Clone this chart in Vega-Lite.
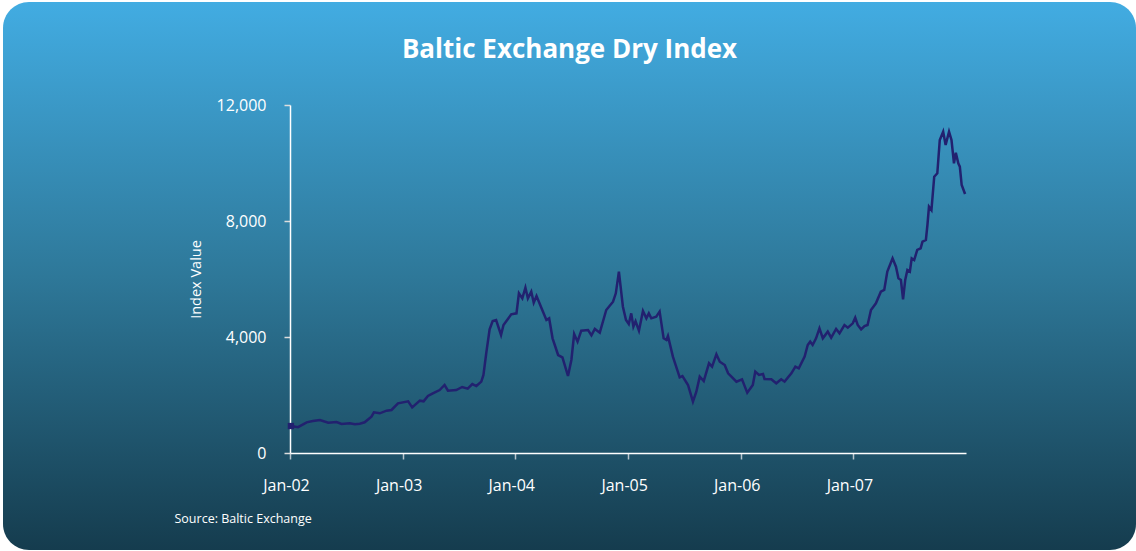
{
  "$schema": "https://vega.github.io/schema/vega-lite/v6.json",
  "width": 1133,
  "height": 548,
  "padding": {"left": 3, "top": 2, "right": 0, "bottom": 1},
  "background": "white",
  "config": {
    "font": "Open Sans",
    "view": {
      "cornerRadius": 26,
      "stroke": null,
      "fill": {
        "gradient": "linear",
        "x1": 0, "y1": 0, "x2": 0, "y2": 1,
        "stops": [
          {"offset": 0, "color": "#42ace2"},
          {"offset": 0.5, "color": "#2e7899"},
          {"offset": 1, "color": "#153c4e"}
        ]
      }
    },
    "axis": {
      "grid": false,
      "domainColor": "white",
      "domainWidth": 1.5,
      "tickColor": "#dddddd",
      "tickWidth": 1.5,
      "tickSize": 6,
      "labelColor": "white",
      "labelFont": "Open Sans",
      "labelFontSize": 16,
      "titleColor": "white",
      "titleFont": "Open Sans"
    }
  },
  "title": {
    "text": "Baltic Exchange Dry Index",
    "color": "white",
    "font": "Open Sans",
    "fontSize": 26,
    "fontWeight": "bold",
    "anchor": "middle",
    "baseline": "middle",
    "offset": -74
  },
  "data": {
    "values": [
      {"date": "2002-01-04", "value": 930},
      {"date": "2002-01-27", "value": 890},
      {"date": "2002-02-24", "value": 1058},
      {"date": "2002-03-16", "value": 1100},
      {"date": "2002-04-08", "value": 1138},
      {"date": "2002-05-05", "value": 1046},
      {"date": "2002-06-01", "value": 1069},
      {"date": "2002-06-17", "value": 1000},
      {"date": "2002-07-14", "value": 1023},
      {"date": "2002-07-30", "value": 990},
      {"date": "2002-08-15", "value": 1010},
      {"date": "2002-08-31", "value": 1058},
      {"date": "2002-09-22", "value": 1253},
      {"date": "2002-09-30", "value": 1402},
      {"date": "2002-10-19", "value": 1368},
      {"date": "2002-11-10", "value": 1460},
      {"date": "2002-11-26", "value": 1483},
      {"date": "2002-12-17", "value": 1713},
      {"date": "2003-01-19", "value": 1782},
      {"date": "2003-02-01", "value": 1575},
      {"date": "2003-02-26", "value": 1805},
      {"date": "2003-03-10", "value": 1782},
      {"date": "2003-03-24", "value": 1966},
      {"date": "2003-04-09", "value": 2057},
      {"date": "2003-05-01", "value": 2172},
      {"date": "2003-05-17", "value": 2345},
      {"date": "2003-05-28", "value": 2149},
      {"date": "2003-06-24", "value": 2172},
      {"date": "2003-07-13", "value": 2276},
      {"date": "2003-07-31", "value": 2218},
      {"date": "2003-08-15", "value": 2379},
      {"date": "2003-08-28", "value": 2310},
      {"date": "2003-09-13", "value": 2460},
      {"date": "2003-09-20", "value": 2690},
      {"date": "2003-09-29", "value": 3437},
      {"date": "2003-10-10", "value": 4264},
      {"date": "2003-10-20", "value": 4552},
      {"date": "2003-10-31", "value": 4586},
      {"date": "2003-11-16", "value": 4069},
      {"date": "2003-11-24", "value": 4414},
      {"date": "2003-12-19", "value": 4782},
      {"date": "2004-01-05", "value": 4816},
      {"date": "2004-01-13", "value": 5506},
      {"date": "2004-01-24", "value": 5333},
      {"date": "2004-02-03", "value": 5701},
      {"date": "2004-02-11", "value": 5333},
      {"date": "2004-02-22", "value": 5563},
      {"date": "2004-03-01", "value": 5184},
      {"date": "2004-03-10", "value": 5414},
      {"date": "2004-03-31", "value": 4874},
      {"date": "2004-04-11", "value": 4586},
      {"date": "2004-04-20", "value": 4644},
      {"date": "2004-05-01", "value": 3954},
      {"date": "2004-05-19", "value": 3379},
      {"date": "2004-06-02", "value": 3299},
      {"date": "2004-06-20", "value": 2655},
      {"date": "2004-07-01", "value": 3207},
      {"date": "2004-07-10", "value": 4103},
      {"date": "2004-07-21", "value": 3839},
      {"date": "2004-08-02", "value": 4218},
      {"date": "2004-08-24", "value": 4241},
      {"date": "2004-09-04", "value": 4057},
      {"date": "2004-09-15", "value": 4276},
      {"date": "2004-10-01", "value": 4149},
      {"date": "2004-10-22", "value": 4931},
      {"date": "2004-11-13", "value": 5218},
      {"date": "2004-11-22", "value": 5506},
      {"date": "2004-12-02", "value": 6253},
      {"date": "2004-12-15", "value": 5046},
      {"date": "2004-12-25", "value": 4586},
      {"date": "2005-01-03", "value": 4448},
      {"date": "2005-01-11", "value": 4816},
      {"date": "2005-01-18", "value": 4356},
      {"date": "2005-01-25", "value": 4540},
      {"date": "2005-02-05", "value": 4218},
      {"date": "2005-02-18", "value": 4897},
      {"date": "2005-03-01", "value": 4644},
      {"date": "2005-03-09", "value": 4816},
      {"date": "2005-03-17", "value": 4644},
      {"date": "2005-04-02", "value": 4701},
      {"date": "2005-04-13", "value": 4874},
      {"date": "2005-04-26", "value": 3954},
      {"date": "2005-05-05", "value": 3897},
      {"date": "2005-05-10", "value": 4034},
      {"date": "2005-05-26", "value": 3322},
      {"date": "2005-06-17", "value": 2609},
      {"date": "2005-06-26", "value": 2655},
      {"date": "2005-07-14", "value": 2345},
      {"date": "2005-07-30", "value": 1770},
      {"date": "2005-08-10", "value": 2115},
      {"date": "2005-08-21", "value": 2632},
      {"date": "2005-09-03", "value": 2483},
      {"date": "2005-09-20", "value": 3092},
      {"date": "2005-09-30", "value": 2977},
      {"date": "2005-10-14", "value": 3402},
      {"date": "2005-10-25", "value": 3149},
      {"date": "2005-11-10", "value": 3034},
      {"date": "2005-11-21", "value": 2747},
      {"date": "2005-12-18", "value": 2460},
      {"date": "2006-01-05", "value": 2540},
      {"date": "2006-01-22", "value": 2080},
      {"date": "2006-02-09", "value": 2345},
      {"date": "2006-02-17", "value": 2805},
      {"date": "2006-03-01", "value": 2690},
      {"date": "2006-03-14", "value": 2724},
      {"date": "2006-03-19", "value": 2552},
      {"date": "2006-04-10", "value": 2540},
      {"date": "2006-04-26", "value": 2402},
      {"date": "2006-05-12", "value": 2540},
      {"date": "2006-05-23", "value": 2460},
      {"date": "2006-06-14", "value": 2747},
      {"date": "2006-06-27", "value": 2977},
      {"date": "2006-07-08", "value": 2920},
      {"date": "2006-07-27", "value": 3322},
      {"date": "2006-08-06", "value": 3724},
      {"date": "2006-08-14", "value": 3839},
      {"date": "2006-08-22", "value": 3724},
      {"date": "2006-09-02", "value": 3954},
      {"date": "2006-09-13", "value": 4299},
      {"date": "2006-09-24", "value": 3954},
      {"date": "2006-10-10", "value": 4184},
      {"date": "2006-10-21", "value": 3977},
      {"date": "2006-11-06", "value": 4276},
      {"date": "2006-11-17", "value": 4126},
      {"date": "2006-12-03", "value": 4414},
      {"date": "2006-12-14", "value": 4322},
      {"date": "2006-12-30", "value": 4471},
      {"date": "2007-01-07", "value": 4667},
      {"date": "2007-01-15", "value": 4414},
      {"date": "2007-01-26", "value": 4264},
      {"date": "2007-02-06", "value": 4379},
      {"date": "2007-02-16", "value": 4414},
      {"date": "2007-02-27", "value": 4931},
      {"date": "2007-03-15", "value": 5161},
      {"date": "2007-03-31", "value": 5563},
      {"date": "2007-04-11", "value": 5621},
      {"date": "2007-04-21", "value": 6253},
      {"date": "2007-05-08", "value": 6713},
      {"date": "2007-05-19", "value": 6425},
      {"date": "2007-05-27", "value": 6023},
      {"date": "2007-06-04", "value": 5966},
      {"date": "2007-06-11", "value": 5299},
      {"date": "2007-06-18", "value": 5966},
      {"date": "2007-06-25", "value": 6310},
      {"date": "2007-07-03", "value": 6253},
      {"date": "2007-07-09", "value": 6713},
      {"date": "2007-07-17", "value": 6655},
      {"date": "2007-07-27", "value": 7000},
      {"date": "2007-08-07", "value": 7057},
      {"date": "2007-08-13", "value": 7287},
      {"date": "2007-08-24", "value": 7345},
      {"date": "2007-08-29", "value": 7862},
      {"date": "2007-09-03", "value": 8494},
      {"date": "2007-09-11", "value": 8379},
      {"date": "2007-09-20", "value": 9529},
      {"date": "2007-09-30", "value": 9644},
      {"date": "2007-10-08", "value": 10793},
      {"date": "2007-10-19", "value": 11080},
      {"date": "2007-10-27", "value": 10621},
      {"date": "2007-11-07", "value": 11080},
      {"date": "2007-11-15", "value": 10793},
      {"date": "2007-11-23", "value": 9989},
      {"date": "2007-11-29", "value": 10356},
      {"date": "2007-12-07", "value": 9989},
      {"date": "2007-12-12", "value": 9874},
      {"date": "2007-12-18", "value": 9241},
      {"date": "2007-12-29", "value": 8931}
    ]
  },
  "encoding": {
    "x": {
      "field": "date",
      "type": "temporal",
      "scale": {
        "type": "utc",
        "domain": [
          {"year": 2002, "month": 1, "date": 1, "utc": true},
          {"year": 2008, "month": 1, "date": 1, "utc": true}
        ],
        "range": [287, 963]
      },
      "axis": {
        "orient": "bottom",
        "offset": -97,
        "values": [
          {"year": 2002, "month": 1, "date": 1, "utc": true},
          {"year": 2003, "month": 1, "date": 1, "utc": true},
          {"year": 2004, "month": 1, "date": 1, "utc": true},
          {"year": 2005, "month": 1, "date": 1, "utc": true},
          {"year": 2006, "month": 1, "date": 1, "utc": true},
          {"year": 2007, "month": 1, "date": 1, "utc": true}
        ],
        "labelExpr": "utcFormat(datum.value, '%b-%y')",
        "labelFlush": false,
        "labelOffset": -4,
        "labelPadding": 18,
        "tickColor": "#b8c4cc",
        "title": "Source: Baltic Exchange",
        "titleFontSize": 12.5,
        "titleFontWeight": "normal",
        "titleAnchor": "start",
        "titleAlign": "left",
        "titleBaseline": "middle",
        "titleX": 171,
        "titleY": 65
      }
    },
    "y": {
      "field": "value",
      "type": "quantitative",
      "scale": {"domain": [0, 12000], "range": [451, 103], "nice": false, "zero": true},
      "axis": {
        "orient": "left",
        "offset": -287,
        "values": [0, 4000, 8000, 12000],
        "format": ",d",
        "labelPadding": 18,
        "title": "Index Value",
        "titleFontSize": 14.5,
        "titleFontWeight": "normal",
        "titlePadding": 13
      }
    }
  },
  "layer": [
    {
      "mark": {"type": "line", "color": "#22216f", "strokeWidth": 2.5, "interpolate": "linear"}
    },
    {
      "transform": [{"filter": "datum.value == 930"}],
      "mark": {"type": "point", "shape": "square", "filled": true, "size": 40, "color": "#22216f", "opacity": 1}
    }
  ]
}
